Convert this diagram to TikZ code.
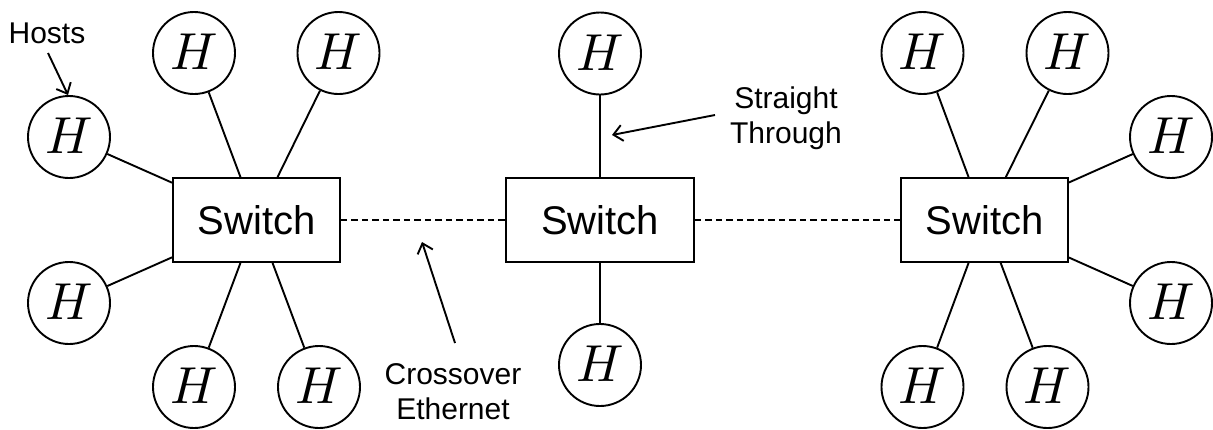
\documentclass[tikz,border=0pt]{standalone}
\usepackage{graphicx}
\usepackage{fontspec}
\setmainfont{Liberation Sans}
\usetikzlibrary{arrows.meta}
\newcommand{\hostH}{\raisebox{2pt}{\scalebox{5.2}{$H$}}}
\begin{document}
\begin{tikzpicture}[x=1pt,y=-1pt,
  host/.style={circle,draw,line width=1.9pt,minimum size=82pt,inner sep=0pt},
  switchbox/.style={rectangle,draw,line width=1.9pt,minimum height=84pt,inner sep=0pt,font=\fontsize{40}{48}\selectfont},
  link/.style={line width=1.9pt},
  xlink/.style={line width=1.9pt,dash pattern=on 6.5pt off 4pt},
  note/.style={inner sep=0pt,align=center,font=\fontsize{30}{35}\selectfont},
  pointer/.style={line width=1.9pt,-{Straight Barb[length=9pt,width=16pt,line width=1.9pt]}}
]
\fill[white] (0,0) rectangle (1213,429);
\useasboundingbox (0,0) rectangle (1213,429);

% switches
\node[switchbox,minimum width=167pt] (s1) at (256.5,220) {Switch};
\node[switchbox,minimum width=188pt] (s2) at (600,220) {Switch};
\node[switchbox,minimum width=167pt] (s3) at (984.5,220) {Switch};

% left hosts
\node[host] (a1) at (69,137) {\hostH};
\node[host] (a2) at (69,303) {\hostH};
\node[host] (a3) at (194,53) {\hostH};
\node[host] (a4) at (338.5,53) {\hostH};
\node[host] (a5) at (194,387) {\hostH};
\node[host] (a6) at (319,387) {\hostH};

% middle hosts
\node[host] (m1) at (600,53.5) {\hostH};
\node[host] (m2) at (600,365) {\hostH};

% right hosts
\node[host] (b1) at (922.5,53) {\hostH};
\node[host] (b2) at (1067.5,53) {\hostH};
\node[host] (b3) at (1171,137) {\hostH};
\node[host] (b4) at (1171,303) {\hostH};
\node[host] (b5) at (922.5,387) {\hostH};
\node[host] (b6) at (1047.5,387) {\hostH};

% links
\foreach \h in {a1,a2,a3,a4,a5,a6} \draw[link] (\h) -- (s1);
\foreach \h in {m1,m2} \draw[link] (\h) -- (s2);
\foreach \h in {b1,b2,b3,b4,b5,b6} \draw[link] (\h) -- (s3);

\draw[xlink] (s1) -- (s2);
\draw[xlink] (s2) -- (s3);

% labels
\node[note] (hosts) at (47,33) {Hosts};
\node[note,anchor=north] (straight) at (786,87) {Straight\\Through};
\node[note,anchor=north] (cross) at (453,363) {Crossover\\Ethernet};

\coordinate (hostsTail) at (48,53);
\coordinate (hostsTip) at (68,95);
\coordinate (stTail) at (715,115);
\coordinate (stTip) at (612,135);
\coordinate (crTail) at (455,343);
\coordinate (crTip) at (422,242);

\draw[pointer] (hostsTail) -- (hostsTip);
\draw[pointer] (stTail) -- (stTip);
\draw[pointer] (crTail) -- (crTip);
\end{tikzpicture}
\end{document}
